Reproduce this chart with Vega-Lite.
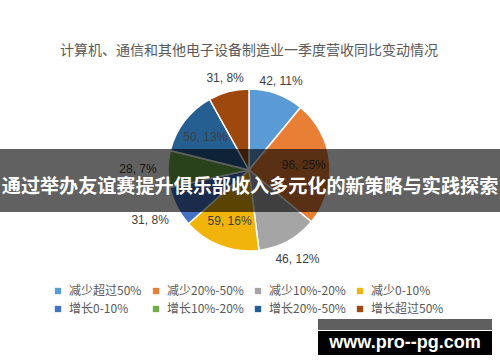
{
  "$schema": "https://vega.github.io/schema/vega-lite/v6.json",
  "width": 498,
  "height": 299,
  "autosize": {"type": "none"},
  "padding": {"top": 30, "left": 0, "right": 2, "bottom": 33},
  "background": "white",
  "config": {
    "view": {"stroke": "#d9d9d9", "strokeWidth": 1},
    "font": "Noto Sans CJK SC"
  },
  "title": {
    "text": "计算机、通信和其他电子设备制造业一季度营收同比变动情况",
    "fontSize": 14,
    "fontWeight": "normal",
    "font": "Noto Sans CJK SC",
    "color": "#595959",
    "anchor": "middle",
    "orient": "top",
    "offset": -28
  },
  "datasets": {
    "pie": [
      {"idx": 1, "cat": "减少超过50%", "value": 42, "label": "42, 11%"},
      {"idx": 2, "cat": "减少20%-50%", "value": 96, "label": "96, 25%"},
      {"idx": 3, "cat": "减少10%-20%", "value": 46, "label": "46, 12%"},
      {"idx": 4, "cat": "减少0-10%", "value": 59, "label": "59, 16%"},
      {"idx": 5, "cat": "增长0-10%", "value": 31, "label": "31, 8%"},
      {"idx": 6, "cat": "增长10%-20%", "value": 28, "label": "28, 7%"},
      {"idx": 7, "cat": "增长20%-50%", "value": 50, "label": "50, 13%"},
      {"idx": 8, "cat": "增长超过50%", "value": 31, "label": "31, 8%"}
    ]
  },
  "data": {"name": "pie"},
  "layer": [
    {
      "mark": {"type": "arc", "outerRadius": 81, "stroke": "white", "strokeWidth": 1.5, "y": {"expr": "height/2-9.5"}},
      "encoding": {
        "theta": {"field": "value", "type": "quantitative", "stack": true},
        "order": {"field": "idx", "type": "quantitative"},
        "color": {
          "field": "cat",
          "type": "nominal",
          "scale": {
            "domain": ["减少超过50%", "减少20%-50%", "减少10%-20%", "减少0-10%", "增长0-10%", "增长10%-20%", "增长20%-50%", "增长超过50%"],
            "range": ["#5B9BD5", "#E97E35", "#A5A5A5", "#F0B40A", "#4472C4", "#70AD47", "#255E91", "#9E480E"]
          },
          "legend": {
            "orient": "none",
            "legendX": 52,
            "legendY": 255,
            "direction": "horizontal",
            "columns": 4,
            "title": null,
            "symbolType": "square",
            "symbolSize": 40,
            "symbolStrokeWidth": 0,
            "labelFontSize": 12,
            "labelColor": "#595959",
            "labelFont": "Noto Sans CJK SC",
            "columnPadding": 8,
            "rowPadding": 6,
            "labelOffset": 5
          }
        }
      }
    },
    {
      "mark": {"type": "text", "radius": 55, "fontSize": 12, "font": "Liberation Sans", "color": "#404040", "y": {"expr": "height/2-9.5"}},
      "encoding": {
        "theta": {"field": "value", "type": "quantitative", "stack": true},
        "order": {"field": "idx", "type": "quantitative"},
        "text": {"condition": {"test": "datum.value >= 50", "field": "label"}, "value": ""}
      }
    },
    {
      "mark": {"type": "text", "radius": 95, "fontSize": 12, "font": "Liberation Sans", "color": "#404040", "y": {"expr": "height/2-9.5"}},
      "encoding": {
        "theta": {"field": "value", "type": "quantitative", "stack": true},
        "order": {"field": "idx", "type": "quantitative"},
        "text": {"condition": {"test": "datum.idx == 1 || datum.idx == 8", "field": "label"}, "value": ""}
      }
    },
    {
      "mark": {"type": "text", "radius": 101, "fontSize": 12, "font": "Liberation Sans", "color": "#404040", "y": {"expr": "height/2-9.5"}},
      "encoding": {
        "theta": {"field": "value", "type": "quantitative", "stack": true},
        "order": {"field": "idx", "type": "quantitative"},
        "text": {"condition": {"test": "datum.idx == 3", "field": "label"}, "value": ""}
      }
    },
    {
      "mark": {"type": "text", "radius": 111, "fontSize": 12, "font": "Liberation Sans", "color": "#404040", "y": {"expr": "height/2-9.5"}},
      "encoding": {
        "theta": {"field": "value", "type": "quantitative", "stack": true},
        "order": {"field": "idx", "type": "quantitative"},
        "text": {"condition": {"test": "datum.idx == 5 || datum.idx == 6", "field": "label"}, "value": ""}
      }
    },
    {
      "data": {"values": [{"t": "通过举办友谊赛提升俱乐部收入多元化的新策略与实践探索"}]},
      "layer": [
        {
          "mark": {"type": "rect", "x": -1, "x2": {"expr": "width+2"}, "y": 119, "y2": 182, "fill": "black", "opacity": 0.62},
          "encoding": {}
        },
        {
          "mark": {"type": "text", "x": {"expr": "width/2+1"}, "y": 157, "fontSize": 19.1, "fontWeight": "bold", "font": "Noto Sans CJK SC", "color": "white", "align": "center", "baseline": "middle"},
          "encoding": {"text": {"field": "t"}}
        }
      ]
    },
    {
      "data": {"values": [{"t": "www.pro--pg.com"}]},
      "layer": [
        {
          "mark": {"type": "rect", "x": 318, "x2": 492, "y": 289, "y2": 300, "fill": "#5f5f5f"},
          "encoding": {}
        },
        {
          "mark": {"type": "rect", "x": 318, "x2": 492, "y": 301, "y2": 325, "fill": "black"},
          "encoding": {}
        },
        {
          "mark": {"type": "text", "x": 405, "y": 313, "fontSize": 18, "fontWeight": "bold", "font": "Liberation Sans", "color": "white", "align": "center", "baseline": "middle"},
          "encoding": {"text": {"field": "t"}}
        }
      ]
    }
  ]
}
